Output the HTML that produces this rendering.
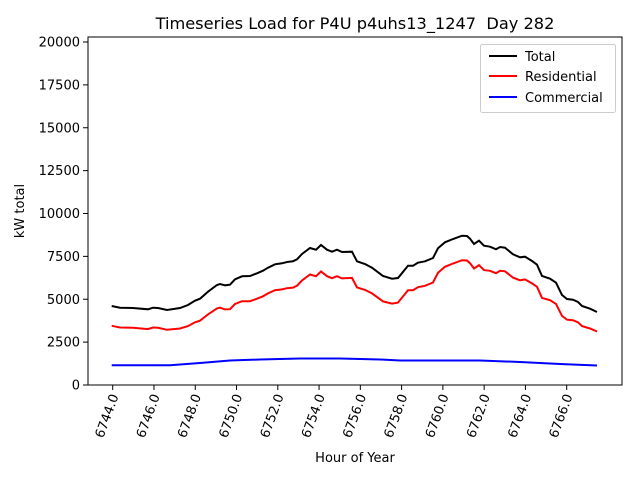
<!DOCTYPE html>
<html><head><meta charset="utf-8"><style>body{margin:0;background:#fff}svg{display:block;font-family:"DejaVu Sans","Liberation Sans",sans-serif}</style></head>
<body>
<svg id="s" width="640" height="480" xmlns="http://www.w3.org/2000/svg">
<rect width="640" height="480" fill="#fff"/>
<text x="355" y="29" font-size="16.2" text-anchor="middle">Timeseries Load for P4U p4uhs13_1247&#160; Day 282</text>
<g id="grid"></g>
<polyline id="blk" fill="none" stroke="#000" stroke-width="2"/>
<polyline id="red" fill="none" stroke="#f00" stroke-width="2"/>
<polyline id="blu" fill="none" stroke="#00f" stroke-width="2"/>
<rect x="88" y="37" width="534" height="348" fill="none" stroke="#000" stroke-width="1"/>
<text x="24" y="211" font-size="13" text-anchor="middle" transform="rotate(-90 24 211)">kW total</text>
<text x="355" y="462" font-size="13" text-anchor="middle">Hour of Year</text>
<rect x="480.5" y="44.5" width="135" height="68" fill="#fff" stroke="#ccc" rx="2"/>
<line x1="489" y1="56" x2="517" y2="56" stroke="#000" stroke-width="2"/>
<text x="525" y="61" font-size="13">Total</text>
<line x1="489" y1="76" x2="517" y2="76" stroke="#f00" stroke-width="2"/>
<text x="525" y="81" font-size="13">Residential</text>
<line x1="489" y1="97" x2="517" y2="97" stroke="#00f" stroke-width="2"/>
<text x="525" y="102" font-size="13">Commercial</text>
</svg>
<script>
var b=[[111.7,306],[120,307.7],[133,308],[148,309.3],[153,307.7],[158,308],[167,310],[180,308],[188,305],[195,300.7],[200,298.7],[208,291.7],[217,285],[220,284],[225,285.3],[230,284.7],[235,279.3],[242,276.3],[250,276],[257,273.3],[263,270.7],[268,267.7],[275,264.3],[282,263.3],[287,262],[293,261.3],[297,259.3],[302,254],[310,248],[316,249.7],[321,245],[327,249.7],[332,251.7],[337,249.7],[342,252],[352,251.7],[357,261.3],[365,264],[372,267.7],[383,276],[392,278.7],[398,278],[408,265.7],[413,265.7],[418,262.7],[425,261.3],[433,258],[438,248.3],[445,242.3],[453,239],[462,235.7],[467,236],[470,238.7],[474,244],[479,240.7],[484,245.7],[490,246.7],[496,249.3],[500,247],[505,247.7],[513,254.3],[520,257.3],[525,256.7],[532,261],[537,264.7],[542,276],[550,278.7],[556,282.7],[562,295],[567,299],[573,299.7],[578,302],[582,306],[590,308.7],[597,312]];
var bl=[[111.7,365.2],[170,365.2],[200,363],[230,360.5],[260,359.5],[300,358.5],[340,358.5],[380,359.5],[400,360.5],[480,360.5],[520,362],[560,364],[597,365.5]];
function by(x){for(var i=0;i<bl.length-1;i++){if(x<=bl[i+1][0]){var t=(x-bl[i][0])/(bl[i+1][0]-bl[i][0]);return bl[i][1]+t*(bl[i+1][1]-bl[i][1]);}}return bl[bl.length-1][1];}
function P(a){return a.map(function(p){return p[0].toFixed(1)+","+p[1].toFixed(1)}).join(" ")}
document.getElementById("blk").setAttribute("points",P(b));
document.getElementById("red").setAttribute("points",P(b.map(function(p){return [p[0],p[1]+(385-by(p[0]))]})));
document.getElementById("blu").setAttribute("points",P(bl));
var g=document.getElementById("grid"),h="";
for(var v=0;v<=20000;v+=2500){var y=385-v*0.01715;h+='<line x1="83" x2="88" y1="'+y+'" y2="'+y+'" stroke="#000"/><text x="80" y="'+(y+4.5)+'" font-size="13" text-anchor="end">'+v+'</text>';}
for(var k=0;k<12;k++){var x=112.7+k*2*20.636;h+='<line x1="'+x+'" x2="'+x+'" y1="385" y2="390" stroke="#000"/><text x="'+(x+6)+'" y="396" font-size="13" text-anchor="end" transform="rotate(-70 '+(x+6)+' 396)">'+(6744+2*k)+'.0</text>';}
g.innerHTML=h;
</script>
</body></html>
